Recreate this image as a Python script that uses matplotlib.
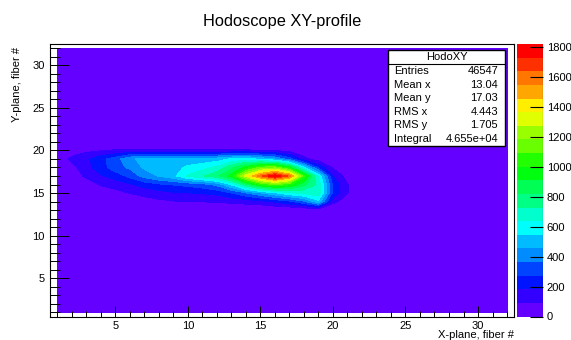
import colorsys
import numpy as np
import matplotlib.pyplot as plt
from matplotlib.patches import Rectangle
from matplotlib.ticker import MultipleLocator

plt.rcParams['font.family'] = ['Liberation Sans', 'DejaVu Sans']

# hodoscope fibers, bin centres 1..32 on both planes
x_fibers = np.arange(1, 33)
y_fibers = np.arange(1, 33)

# counts per bin; each row starts at x = 1, rest is empty
counts_y13 = [0, 0, 0, 0, 0, 0, 0, 0, 0, 0, 0, 0, 0, 0, 0, 0, 0, 0, 20, 0, 0, 0]
counts_y14 = [0, 0, 0, 0, 0, 20, 50, 70, 85, 95, 95, 100, 115, 130, 150, 200, 250, 350, 520, 120, 40, 0]
counts_y15 = [0, 0, 0, 30, 60, 95, 120, 150, 170, 180, 190, 210, 270, 360, 450, 530, 620, 660, 700, 250, 95, 0]
counts_y16 = [0, 0, 40, 100, 130, 170, 220, 260, 280, 300, 330, 390, 560, 800, 1000, 1100, 1020, 850, 700, 260, 95, 0]
counts_y17 = [0, 30, 110, 170, 220, 300, 400, 460, 520, 650, 720, 800, 950, 1320, 1610, 1822, 1610, 1050, 620, 180, 50, 0]
counts_y18 = [0, 60, 150, 230, 330, 380, 470, 500, 520, 560, 600, 660, 800, 950, 1120, 1150, 950, 560, 250, 80, 0, 0]
counts_y19 = [0, 118, 160, 240, 320, 440, 480, 490, 500, 500, 490, 500, 560, 590, 520, 450, 320, 120, 40, 0, 0, 0]
counts_y20 = [0, 30, 70, 85, 100, 100, 100, 100, 100, 100, 100, 100, 100, 100, 90, 80, 60, 20, 0, 0, 0, 0]

rows = {13: counts_y13, 14: counts_y14, 15: counts_y15, 16: counts_y16,
        17: counts_y17, 18: counts_y18, 19: counts_y19, 20: counts_y20}

z_max = 1822
n_contours = 20
cbar_ticks = [0, 200, 400, 600, 800, 1000, 1200, 1400, 1600, 1800]

stats_name = 'HodoXY'
stats_labels = ['Entries', 'Mean x', 'Mean y', 'RMS x', 'RMS y', 'Integral']
stats_values = ['46547', '13.04', '17.03', '4.443', '1.705', '4.655e+04']

grid = np.zeros((len(y_fibers), len(x_fibers)))
for y, row in rows.items():
    grid[y - 1, :len(row)] = row


def pretty_palette(ncont):
    # ROOT "pretty" violet->red palette (50 colours), picked like THistPainter does
    cols = []
    for j in range(ncont):
        i = int((j + 0.99) * 50 / ncont)
        hue = 280 - (i + 1) * 5.6
        cols.append(colorsys.hls_to_rgb(hue / 360.0, 0.5, 1.0))
    return cols


W, H = 571, 340


def fx(px):
    return px / W


def fy(py):
    return 1 - py / H


fig = plt.figure(figsize=(W / 100, H / 100), dpi=100)
ax = fig.add_axes([fx(50), fy(316.5), (514.3 - 50) / W, (316.5 - 44) / H])
cax = fig.add_axes([fx(517.3), fy(316.5), 26 / W, (316.5 - 44) / H])

levels = np.linspace(0, z_max, n_contours + 1)
palette = pretty_palette(n_contours)
X, Y = np.meshgrid(x_fibers, y_fibers)
cf = ax.contourf(X, Y, grid, levels=levels, colors=palette)

ax.set_xlim(0.5, 32.5)
ax.set_ylim(0.5, 32.5)
ax.xaxis.set_major_locator(MultipleLocator(5))
ax.xaxis.set_minor_locator(MultipleLocator(1))
ax.yaxis.set_major_locator(MultipleLocator(5))
ax.yaxis.set_minor_locator(MultipleLocator(1))
ax.tick_params(which='both', direction='in', labelsize=8, colors='black')
ax.tick_params(axis='x', which='major', length=8, width=0.7, pad=3.5)
ax.tick_params(axis='x', which='minor', length=4, width=0.7)
ax.tick_params(axis='y', which='major', length=14, width=0.7, pad=4)
ax.tick_params(axis='y', which='minor', length=7, width=0.7)
for s in ax.spines.values():
    s.set_linewidth(0.8)

cb = fig.colorbar(cf, cax=cax)
cb.outline.set_visible(False)
cb.set_ticks(cbar_ticks)
cax.tick_params(direction='in', length=9.5, width=0.8, labelsize=8, pad=2.5)
cax.axvline(1, color='black', lw=0.8)

fig.text(fx(281.7), fy(21.7), 'Hodoscope XY-profile', ha='center', va='center', fontsize=11.8)
fig.text(fx(16.7), fy(47), 'Y-plane, fiber #', rotation=90, ha='center', va='top', fontsize=8)
fig.text(fx(514.3), fy(335), 'X-plane, fiber #', ha='right', va='center', fontsize=8)

# stats box
box = Rectangle((fx(388.3), fy(146)), (505 - 388.3) / W, (146 - 50) / H,
                transform=fig.transFigure, facecolor='white', edgecolor='black', lw=1.0)
fig.add_artist(box)
fig.add_artist(plt.Line2D([fx(388.3), fx(505)], [fy(64), fy(64)], transform=fig.transFigure,
                          color='black', lw=0.8))
fig.text(fx(446.6), fy(57), stats_name, ha='center', va='center', fontsize=8)
for i, (lab, val) in enumerate(zip(stats_labels, stats_values)):
    yy = 71 + i * 13.6
    fig.text(fx(394), fy(yy), lab, ha='left', va='center', fontsize=8)
    fig.text(fx(498), fy(yy), val, ha='right', va='center', fontsize=8)

fig.savefig('out.png', dpi=100)
